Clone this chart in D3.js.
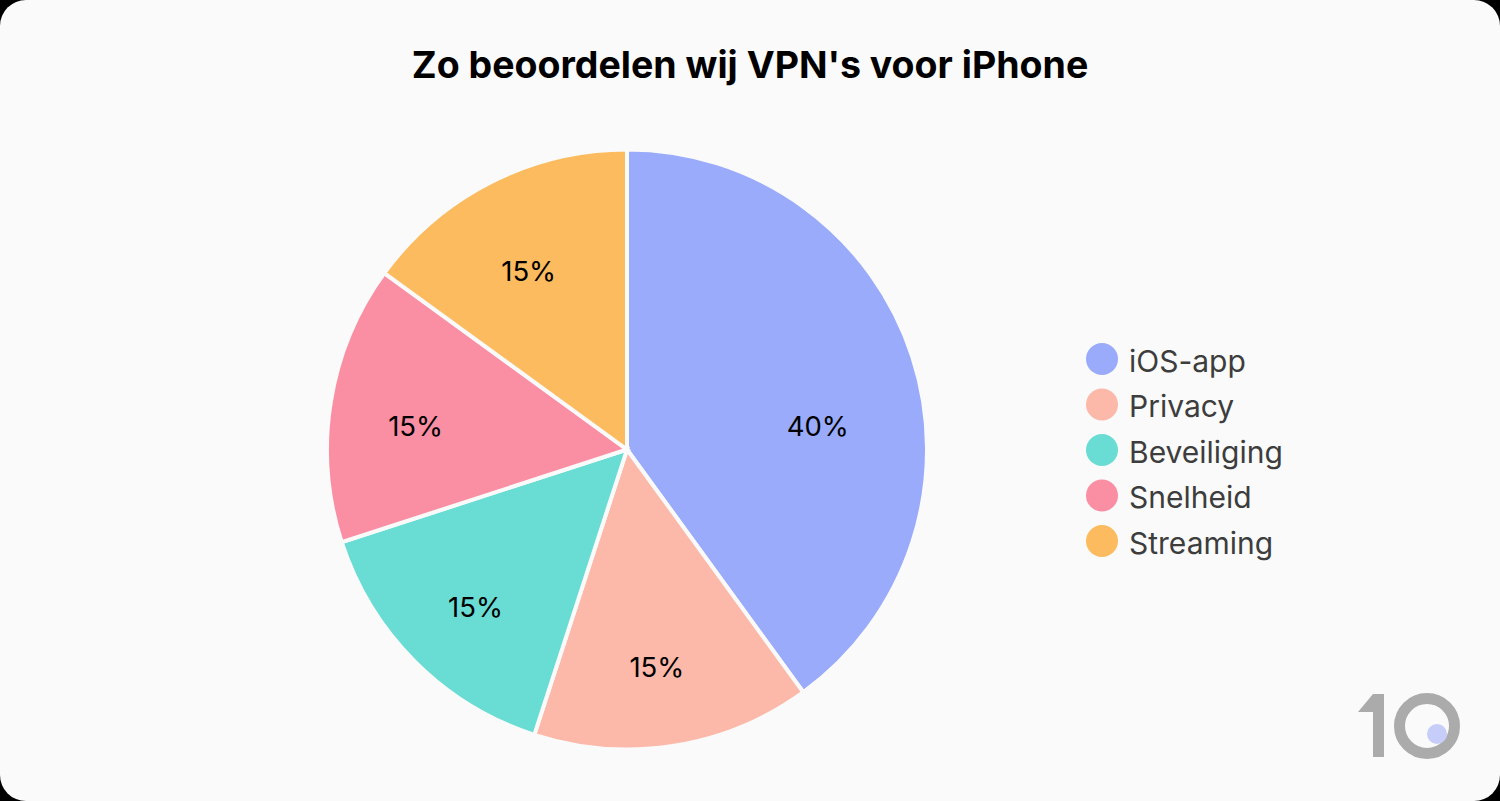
<!DOCTYPE html>
<html>
<head>
<meta charset="utf-8">
<script src="https://cdn.jsdelivr.net/npm/d3@7"></script>
<style>
html, body { margin: 0; padding: 0; background: #000; overflow: hidden; }
text { font-family: Inter, "Noto Sans", sans-serif; }
</style>
</head>
<body>
<svg width="1500" height="801"></svg>
<script>
var categories = ['iOS-app', 'Privacy', 'Beveiliging', 'Snelheid', 'Streaming'];
var values = [40, 15, 15, 15, 15];
var colors = ['#99abfa', '#fcb8a8', '#69dcd4', '#fa8ea3', '#fcbb5e'];
var title = "Zo beoordelen wij VPN's voor iPhone";

var svg = d3.select('svg');

// card background
svg.append('rect')
    .attr('width', 1500)
    .attr('height', 801)
    .attr('rx', 26)
    .attr('fill', '#fafafa');

svg.append('text')
    .attr('x', 750)
    .attr('y', 78)
    .attr('text-anchor', 'middle')
    .attr('font-size', 37.5)
    .attr('font-weight', 700)
    .attr('fill', '#000')
    .text(title);

var radius = 300;
var chartG = svg.append('g')
    .attr('transform', 'translate(' + [627, 449.5] + ')');

var pie = d3.pie().sort(null).value(function(d) { return d.value; });
var arc = d3.arc().innerRadius(0).outerRadius(radius);
var labelArc = d3.arc().innerRadius(radius * 0.7).outerRadius(radius * 0.7);

// the percent labels are not quite on the centroid, nudge them per slice
var labelNudge = [[-9, 41], [-3, 10], [-3, 9], [-4, 9], [-3, 9]];

var table = categories.map(function(c, i) {
    return {name: c, value: values[i], color: colors[i]};
});

var slices = chartG.selectAll('.slice')
    .data(pie(table))
    .enter()
    .append('g')
    .attr('class', 'slice');

slices.append('path')
    .attr('d', arc)
    .attr('fill', function(d) { return d.data.color; })
    .attr('stroke', '#fafafa')
    .attr('stroke-width', 4);

slices.append('text')
    .attr('transform', function(d, i) {
        var c = labelArc.centroid(d);
        return 'translate(' + [c[0] + labelNudge[i][0], c[1] + labelNudge[i][1]] + ')';
    })
    .attr('dy', '0.36em')
    .attr('text-anchor', 'middle')
    .attr('font-size', 27.5)
    .attr('fill', '#000')
    .text(function(d) { return d.data.value + '%'; });

// legend
var legendY = d3.scalePoint().domain(categories).range([359, 541]);

var legend = svg.selectAll('.legend')
    .data(table)
    .enter()
    .append('g')
    .attr('class', 'legend')
    .attr('transform', function(d) { return 'translate(' + [0, legendY(d.name)] + ')'; });

legend.append('circle')
    .attr('cx', 1102)
    .attr('r', 16)
    .attr('fill', function(d) { return d.color; });

legend.append('text')
    .attr('x', 1129)
    .attr('dy', '0.42em')
    .attr('font-size', 30)
    .attr('fill', '#3d3d3d')
    .text(function(d) { return d.name; });

// logo
var logo = svg.append('g');
logo.append('path')
    .attr('d', 'M1358 712 L1373 694 L1384 694 L1384 757 L1373 757 L1373 712 Z')
    .attr('fill', '#ababab');
logo.append('circle')
    .attr('cx', 1427)
    .attr('cy', 726)
    .attr('r', 27.5)
    .attr('fill', 'none')
    .attr('stroke', '#ababab')
    .attr('stroke-width', 11);
logo.append('circle')
    .attr('cx', 1437)
    .attr('cy', 734)
    .attr('r', 10)
    .attr('fill', '#c5cdf8');
</script>
</body>
</html>
